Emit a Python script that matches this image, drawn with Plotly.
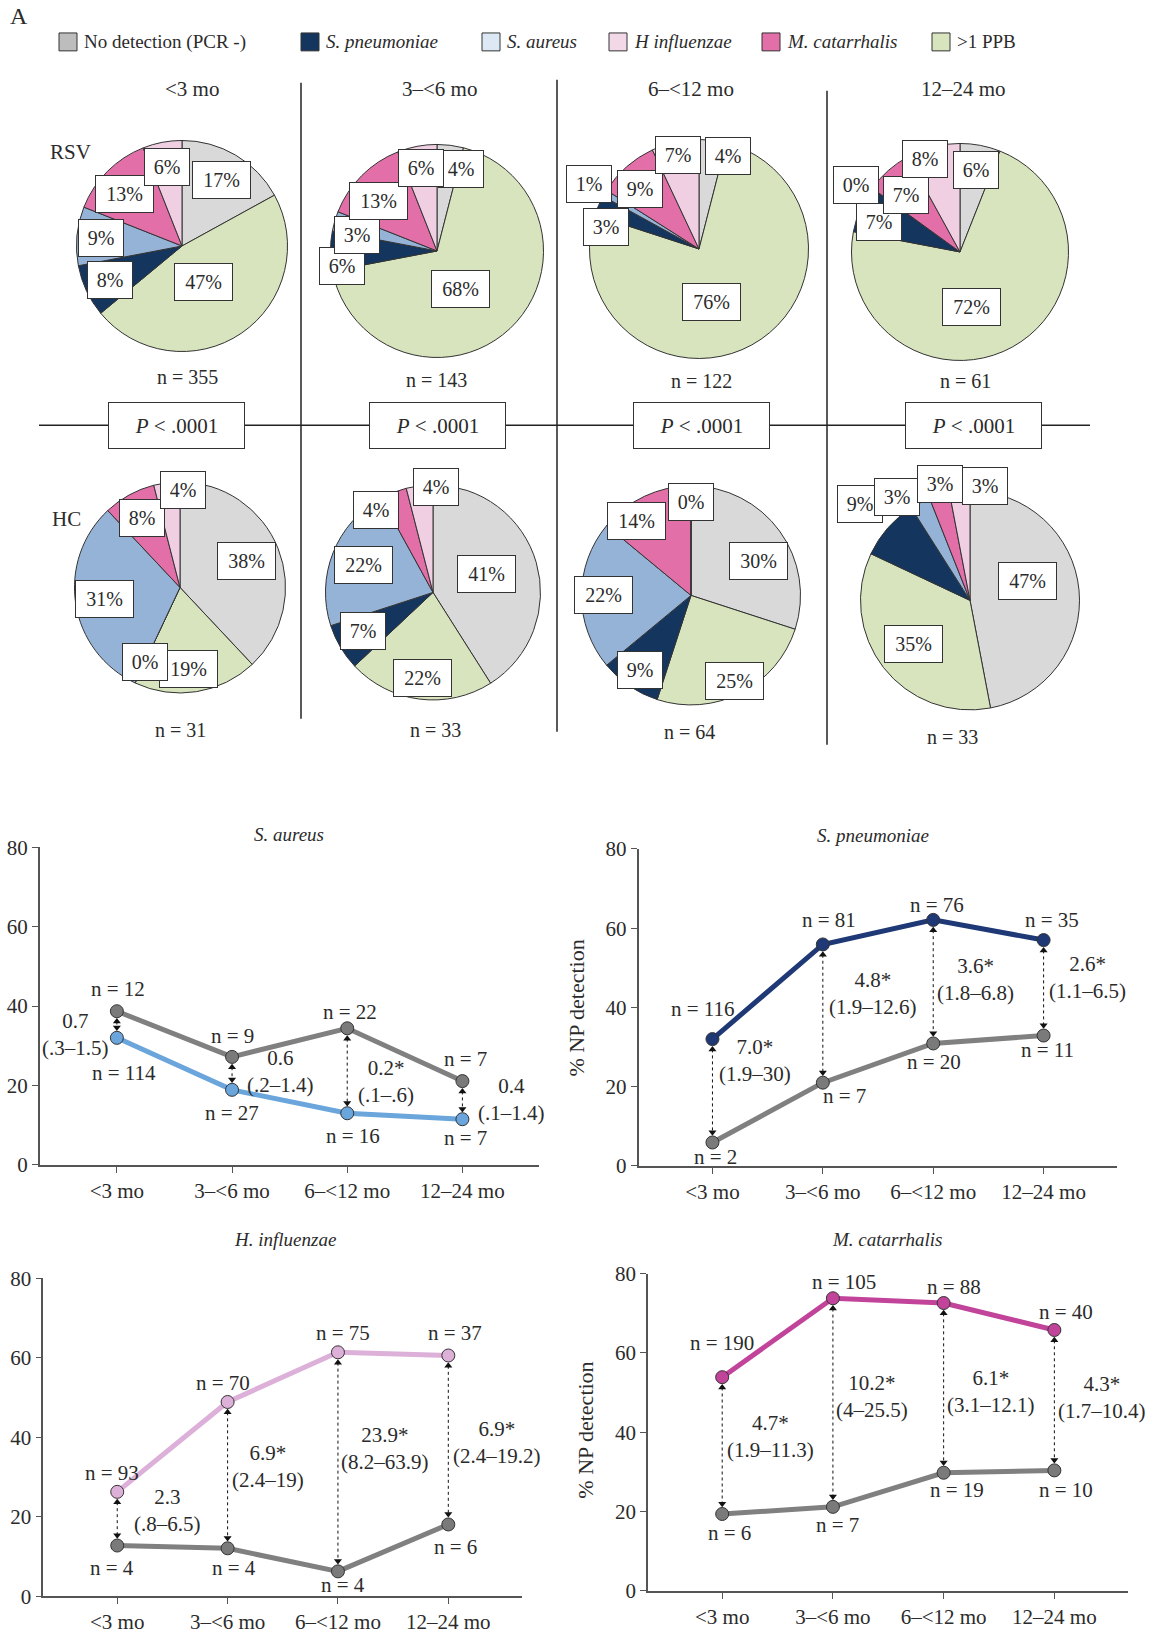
import math
import plotly.graph_objects as go

W, H = 1152, 1634
FONT = "Liberation Serif"
TXT = "#2b2b2b"

# ------------------------------------------------------------------ data
AGE_GROUPS = ["<3 mo", "3–<6 mo", "6–<12 mo", "12–24 mo"]

# pie slices, clockwise from 12 o'clock
PIE_SLICES = ["No detection (PCR -)", ">1 PPB", "S. pneumoniae", "S. aureus",
              "M. catarrhalis", "H influenzae"]
RSV_PCT = [[17, 47, 8, 9, 13, 6],
           [4, 68, 6, 3, 13, 6],
           [4, 76, 3, 1, 9, 7],
           [6, 72, 7, 0, 7, 8]]
HC_PCT = [[38, 19, 0, 31, 8, 4],
          [41, 22, 7, 22, 4, 4],
          [30, 25, 9, 22, 14, 0],
          [47, 35, 9, 3, 3, 3]]
RSV_N = [355, 143, 122, 61]
HC_N = [31, 33, 64, 33]
P_TEXT = ["< .0001", "< .0001", "< .0001", "< .0001"]

LEGEND_ORDER = ["No detection (PCR -)", "S. pneumoniae", "S. aureus",
                "H influenzae", "M. catarrhalis", ">1 PPB"]

# line charts (% NP detection)
SA_RSV = [32.0, 18.9, 13.0, 11.5]
SA_HC = [38.7, 27.2, 34.4, 21.1]
SA_RSV_N = [114, 27, 16, 7]
SA_HC_N = [12, 9, 22, 7]
SA_OR = ["0.7", "0.6", "0.2*", "0.4"]
SA_CI = ["(.3–1.5)", "(.2–1.4)", "(.1–.6)", "(.1–1.4)"]

SP_RSV = [32.0, 55.9, 62.1, 57.0]
SP_HC = [5.9, 21.0, 30.9, 32.9]
SP_RSV_N = [116, 81, 76, 35]
SP_HC_N = [2, 7, 20, 11]
SP_OR = ["7.0*", "4.8*", "3.6*", "2.6*"]
SP_CI = ["(1.9–30)", "(1.9–12.6)", "(1.8–6.8)", "(1.1–6.5)"]

HI_RSV = [26.3, 48.9, 61.4, 60.6]
HI_HC = [12.8, 12.1, 6.3, 18.1]
HI_RSV_N = [93, 70, 75, 37]
HI_HC_N = [4, 4, 4, 6]
HI_OR = ["2.3", "6.9*", "23.9*", "6.9*"]
HI_CI = ["(.8–6.5)", "(2.4–19)", "(8.2–63.9)", "(2.4–19.2)"]

MC_RSV = [53.9, 73.8, 72.6, 65.8]
MC_HC = [19.4, 21.2, 29.8, 30.4]
MC_RSV_N = [190, 105, 88, 40]
MC_HC_N = [6, 7, 19, 10]
MC_OR = ["4.7*", "10.2*", "6.1*", "4.3*"]
MC_CI = ["(1.9–11.3)", "(4–25.5)", "(3.1–12.1)", "(1.7–10.4)"]

# ------------------------------------------------------------------ styles
PIE_COLORS = {"No detection (PCR -)": "#d9d9d9", ">1 PPB": "#d7e4bd",
              "S. pneumoniae": "#14365e", "S. aureus": "#95b3d7",
              "M. catarrhalis": "#e26fa8", "H influenzae": "#f0cfe3"}
LEGEND_COLORS = {"No detection (PCR -)": "#bdbdbd", ">1 PPB": "#d7e4bd",
                 "S. pneumoniae": "#14365e", "S. aureus": "#dce9f5",
                 "M. catarrhalis": "#e26fa8", "H influenzae": "#f3d9e8"}
LEGEND_ITALIC = {"No detection (PCR -)": False, ">1 PPB": False}
LEGEND_KEY_X = [59, 301, 482, 609, 762, 932]
LEGEND_Y = 42

RSV_CENTERS = [(182, 247), (437, 252), (699, 250), (960, 253)]
RSV_R = [106, 107, 110, 109]
HC_CENTERS = [(180, 590), (433, 595), (691, 598), (970, 603)]
HC_R = [106, 108, 110, 110]
RSV_LABEL_NUDGE = [[0, 3, 0, 0, -3, 0], [9, 12, -9, -5, -4, 0],
                   [10, 16, -10, 0, -3, 0], [0, 17, -3, -3, -2, -6]]
RSV_LABEL_R = [[0.73, 0.4, 0.75, 0.77, 0.73, 0.76], [0.8, 0.42, 0.9, 0.76, 0.72, 0.79],
               [0.89, 0.5, 0.87, 1.16, 0.77, 0.88], [0.77, 0.52, 0.79, 1.14, 0.72, 0.91]]
HC_LABEL_NUDGE = [[0, 3, 0, 0, 0, 9], [-3, 0, 2, 0, -13, 9],
                  [9, 0, 0, 0, -11, 0], [-13, 0, 0, -8, 2, 13]]
HC_LABEL_R = [[0.67, 0.78, 0.78, 0.72, 0.75, 0.92], [0.52, 0.8, 0.74, 0.69, 0.93, 0.98],
              [0.69, 0.88, 0.82, 0.8, 0.84, 0.85], [0.55, 0.65, 1.33, 1.15, 1.1, 1.05]]
HEADER_X = [192, 439, 691, 963]
RSV_N_POS = [(187, 379), (436, 382), (701, 383), (965, 383)]
HC_N_POS = [(180, 733), (435, 733), (689, 735), (952, 740)]
P_BOX_X = [176, 437, 701, 973]

# vertical calibration of the page photograph
Y_OFF, Y_SCALE, Y_STRETCH = 12.0, 0.9863, 1.004

fig = go.Figure()
ann = []
shapes = []


def Y(y):
    return (y * Y_STRETCH - Y_OFF) / Y_SCALE


def P(x, y):
    return x / W, 1 - Y(y) / H


def paper_text(x, y, text, size, **kw):
    a, b = P(x, y)
    d = dict(x=a, y=b, xref="paper", yref="paper", text=text, showarrow=False,
             xanchor="center", yanchor="middle",
             font=dict(family=FONT, size=size, color=TXT))
    d.update(kw)
    ann.append(d)


# ------------------------------------------------------------------ panel A
def add_pies(pcts, centers, radii, nudges, rfrac, ns, npos):
    for k, vals in enumerate(pcts):
        cx, cy = centers[k]
        R = radii[k]
        x0, y1 = P(cx - R, cy - R)
        x1, y0 = P(cx + R, cy + R)
        fig.add_trace(go.Pie(
            values=vals, labels=PIE_SLICES, sort=False, direction="clockwise",
            rotation=0, textinfo="none", hoverinfo="label+percent",
            marker=dict(colors=[PIE_COLORS[s] for s in PIE_SLICES],
                        line=dict(color="#333333", width=1)),
            domain=dict(x=[x0, x1], y=[y0, y1]), showlegend=False))
        tot = sum(vals)
        cum = 0.0
        for j, v in enumerate(vals):
            mid = (cum + v / 2) / tot * 360.0
            cum += v
            ang = math.radians(mid + nudges[k][j])
            rr = rfrac[k][j] * R
            lx = cx + rr * math.sin(ang)
            ly = cy - rr * math.cos(ang)
            t = f"{v}%"
            paper_text(lx, ly, t, 20, bgcolor="white", bordercolor="#333333",
                       borderwidth=1, borderpad=0,
                       width=44 if len(t) == 2 else 57, height=36)
        paper_text(npos[k][0], npos[k][1], f"n = {ns[k]}", 20)


add_pies(RSV_PCT, RSV_CENTERS, RSV_R, RSV_LABEL_NUDGE, RSV_LABEL_R, RSV_N, RSV_N_POS)
add_pies(HC_PCT, HC_CENTERS, HC_R, HC_LABEL_NUDGE, HC_LABEL_R, HC_N, HC_N_POS)

# headers / row labels / panel letter
for k, g in enumerate(AGE_GROUPS):
    paper_text(HEADER_X[k], 89, g, 21)
paper_text(70, 153, "RSV", 21)
paper_text(66, 521, "HC", 21)
paper_text(19, 16, "A", 24)

# separators
LINE = dict(color="#222222", width=1.5)
for (x, ya, yb) in [(301, 83, 722), (557, 80, 735), (827, 91, 748)]:
    shapes.append(dict(type="line", xref="paper", yref="paper",
                       x0=x / W, x1=x / W, y0=P(0, ya)[1], y1=P(0, yb)[1], line=LINE))
shapes.append(dict(type="line", xref="paper", yref="paper", x0=39 / W, x1=1090 / W,
                   y0=P(0, 427)[1], y1=P(0, 427)[1], line=LINE))
for k, p in enumerate(P_TEXT):
    paper_text(P_BOX_X[k], 427, f"<i>P</i> {p}", 21, bgcolor="white",
               bordercolor="#333333", borderwidth=1, borderpad=0, width=135, height=45)

# legend
for k, name in enumerate(LEGEND_ORDER):
    x0 = LEGEND_KEY_X[k]
    shapes.append(dict(type="rect", xref="paper", yref="paper",
                       x0=x0 / W, x1=(x0 + 18) / W,
                       y0=P(0, LEGEND_Y + 9)[1], y1=P(0, LEGEND_Y - 9)[1],
                       fillcolor=LEGEND_COLORS[name], line=dict(color="#333333", width=1)))
    label = name if not LEGEND_ITALIC.get(name, True) else f"<i>{name}</i>"
    paper_text(x0 + 23, LEGEND_Y, label, 19, xanchor="left")

# ------------------------------------------------------------------ line charts
CHARTS = [
    dict(title="S. aureus", rsv=SA_RSV, hc=SA_HC, rn=SA_RSV_N, hn=SA_HC_N, orr=SA_OR, ci=SA_CI,
         color="#6aa5dc", dom_x=(39.7, 539), dom_y=(851, 1170), title_pos=(289, 838),
         ytitle=None,
         rn_off=[(7, 35), (0, 23), (6, 22), (3, 19)],
         hn_off=[(1, -22), (0, -21), (3, -16), (3, -22)],
         or_pos=[(-0.36, 32.8), (1.42, 23.5), (2.34, 21.0), (3.43, 16.5)]),
    dict(title="S. pneumoniae", rsv=SP_RSV, hc=SP_HC, rn=SP_RSV_N, hn=SP_HC_N, orr=SP_OR, ci=SP_CI,
         color="#1f3876", dom_x=(638.5, 1117), dom_y=(852.7, 1171), title_pos=(873, 839),
         ytitle=(577, 1013),
         rn_off=[(-9, -30), (6, -24), (4, -15), (8, -20)],
         hn_off=[(3.5, 14), (22, 13), (1, 18), (4, 14)],
         or_pos=[(0.385, 26.7), (1.45, 43.6), (2.38, 47.0), (3.40, 47.6)]),
    dict(title="H. influenzae", rsv=HI_RSV, hc=HI_HC, rn=HI_RSV_N, hn=HI_HC_N, orr=HI_OR, ci=HI_CI,
         color="#dcb0d8", dom_x=(43.3, 521.7), dom_y=(1284, 1603.5), title_pos=(285, 1245),
         ytitle=None,
         rn_off=[(-5, -19), (-5, -19), (5, -19), (7, -22)],
         hn_off=[(-5, 22), (6, 19), (5, 13), (7, 22)],
         or_pos=[(0.455, 21.7), (1.37, 32.7), (2.43, 37.3), (3.44, 38.7)]),
    dict(title="M. catarrhalis", rsv=MC_RSV, hc=MC_HC, rn=MC_RSV_N, hn=MC_HC_N, orr=MC_OR, ci=MC_CI,
         color="#c2449a", dom_x=(648, 1128), dom_y=(1279.3, 1598), title_pos=(886.5, 1245),
         ytitle=(586, 1437),
         rn_off=[(0, -34), (11, -16), (10, -16), (12, -18)],
         hn_off=[(7, 19), (5, 18), (13, 17), (12, 19)],
         or_pos=[(0.44, 38.9), (1.35, 49.0), (2.43, 50.4), (3.43, 48.7)]),
]
HC_LINE = "#808080"
GAP = 2.6
AX = dict(showline=True, linecolor="#555555", linewidth=1.5, ticks="outside", ticklen=6,
          tickcolor="#555555", showgrid=False, zeroline=False,
          tickfont=dict(family=FONT, size=21, color=TXT))

for i, c in enumerate(CHARTS, start=1):
    xa, ya = f"x{i}", f"y{i}"
    fig.update_layout({
        f"xaxis{i}": dict(AX, type="category", categoryorder="array", categoryarray=AGE_GROUPS,
                          range=[-0.67, 3.665], domain=[c["dom_x"][0] / W, c["dom_x"][1] / W],
                          anchor=ya, fixedrange=True),
        f"yaxis{i}": dict(AX, range=[0, 80], tickvals=[0, 20, 40, 60, 80],
                          domain=[P(0, c["dom_y"][1])[1], P(0, c["dom_y"][0])[1]], anchor=xa,
                          fixedrange=True),
    })
    # connecting lines
    fig.add_trace(go.Scatter(x=AGE_GROUPS, y=c["hc"], mode="lines", xaxis=xa, yaxis=ya,
                             line=dict(color=HC_LINE, width=5), showlegend=False,
                             hoverinfo="skip"))
    fig.add_trace(go.Scatter(x=AGE_GROUPS, y=c["rsv"], mode="lines", xaxis=xa, yaxis=ya,
                             line=dict(color=c["color"], width=5), showlegend=False,
                             hoverinfo="skip"))
    # dotted double arrows
    ax_, ay_, tops, bots = [], [], [], []
    for k, g in enumerate(AGE_GROUPS):
        hi = max(c["rsv"][k], c["hc"][k])
        lo = min(c["rsv"][k], c["hc"][k])
        ax_ += [g, g, None]
        ay_ += [hi - GAP, lo + GAP, None]
        tops.append(hi - GAP)
        bots.append(lo + GAP)
    fig.add_trace(go.Scatter(x=ax_, y=ay_, mode="lines", xaxis=xa, yaxis=ya,
                             line=dict(color="#111111", width=1, dash="dot"),
                             showlegend=False, hoverinfo="skip"))
    fig.add_trace(go.Scatter(x=AGE_GROUPS, y=tops, mode="markers", xaxis=xa, yaxis=ya,
                             marker=dict(symbol="triangle-up", size=7, color="#111111"),
                             showlegend=False, hoverinfo="skip"))
    fig.add_trace(go.Scatter(x=AGE_GROUPS, y=bots, mode="markers", xaxis=xa, yaxis=ya,
                             marker=dict(symbol="triangle-down", size=7, color="#111111"),
                             showlegend=False, hoverinfo="skip"))
    # markers
    fig.add_trace(go.Scatter(x=AGE_GROUPS, y=c["hc"], mode="markers", xaxis=xa, yaxis=ya,
                             marker=dict(color="#7a7a7a", size=13,
                                         line=dict(color="#333333", width=1)),
                             showlegend=False, name="HC"))
    fig.add_trace(go.Scatter(x=AGE_GROUPS, y=c["rsv"], mode="markers", xaxis=xa, yaxis=ya,
                             marker=dict(color=c["color"], size=13,
                                         line=dict(color="#333333", width=1)),
                             showlegend=False, name="RSV"))
    # n labels and odds ratios
    for k, g in enumerate(AGE_GROUPS):
        for vals, ns, offs in [(c["rsv"], c["rn"], c["rn_off"]), (c["hc"], c["hn"], c["hn_off"])]:
            ann.append(dict(x=k, y=vals[k], xref=xa, yref=ya, text=f"n = {ns[k]}",
                            showarrow=False, xanchor="center", yanchor="middle",
                            xshift=offs[k][0], yshift=-offs[k][1] / Y_SCALE,
                            font=dict(family=FONT, size=21, color=TXT)))
        ox, oy = c["or_pos"][k]
        ann.append(dict(x=ox, y=oy, xref=xa, yref=ya, text=f"{c['orr'][k]}<br>{c['ci'][k]}",
                        showarrow=False, xanchor="center", yanchor="middle",
                        font=dict(family=FONT, size=21, color=TXT)))
    paper_text(c["title_pos"][0], c["title_pos"][1], f"<i>{c['title']}</i>", 19)
    if c["ytitle"]:
        paper_text(c["ytitle"][0], c["ytitle"][1], "% NP detection", 22, textangle=-90)

fig.update_layout(width=W, height=H, autosize=False,
                  margin=dict(l=0, r=0, t=0, b=0),
                  paper_bgcolor="white", plot_bgcolor="white",
                  font=dict(family=FONT, color=TXT),
                  annotations=ann, shapes=shapes, showlegend=False)

fig.write_html("out.html", config={"displayModeBar": False, "responsive": False},
               post_script="document.body.style.margin='0';document.body.style.overflow='hidden';")
